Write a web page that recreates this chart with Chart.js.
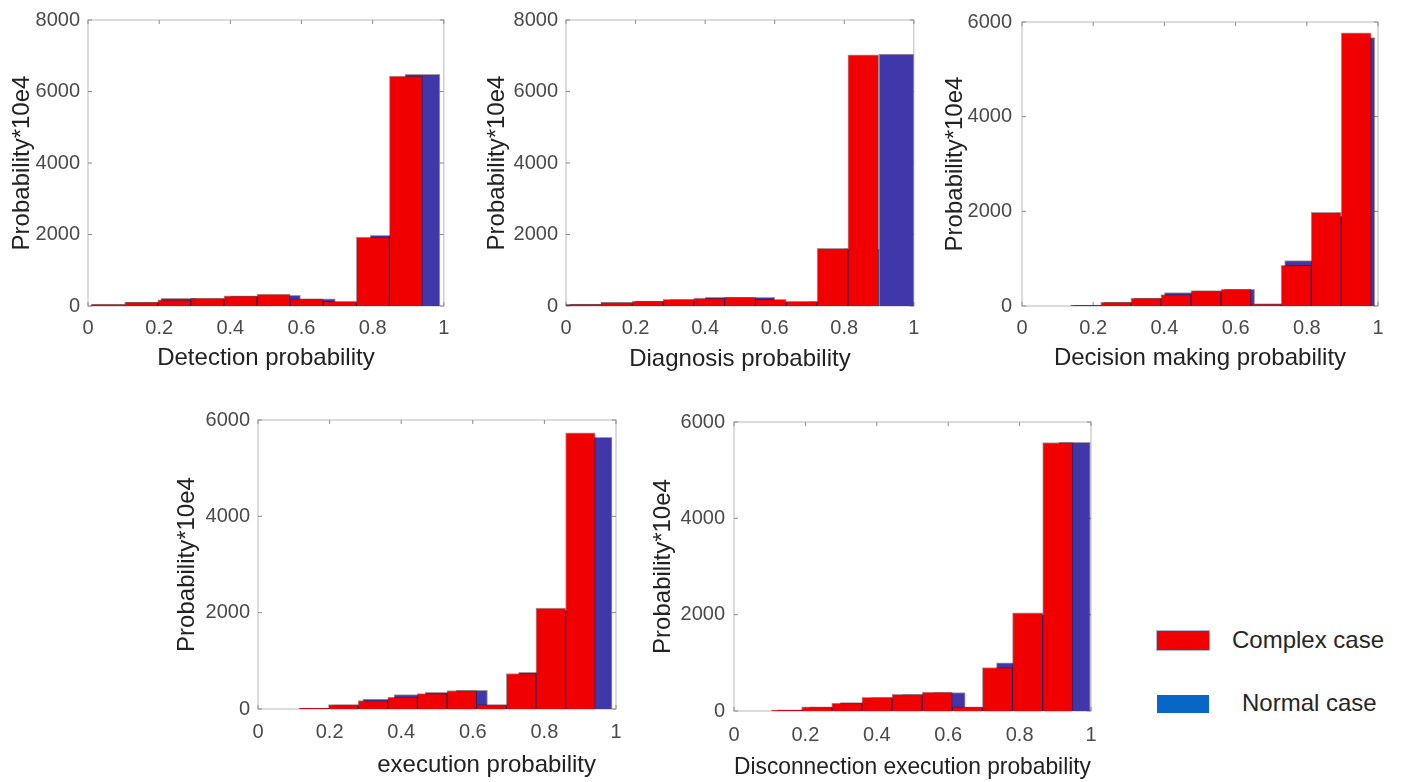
<!DOCTYPE html>
<html lang="en">
<head>
<meta charset="UTF-8">
<title>Probability histograms: complex vs normal case</title>
<script src="https://cdn.jsdelivr.net/npm/chart.js"></script>
<style>
    html, body { margin: 0; padding: 0; background: #fff; }
    body {
        position: relative;
        width: 1402px;
        height: 782px;
        overflow: hidden;
        font-family: 'Liberation Sans', Arial, sans-serif;
    }
    canvas { position: absolute; }
    .swatch { position: absolute; width: 52px; }
    .legend-label {
        position: absolute;
        font-size: 24px;
        line-height: 28px;
        color: #262626;
        white-space: nowrap;
    }
</style>
</head>
<body>
<canvas id="detection" width="460" height="380" style="left:0px;top:0px"></canvas>
<canvas id="diagnosis" width="460" height="380" style="left:470px;top:0px"></canvas>
<canvas id="decision" width="472" height="380" style="left:930px;top:0px"></canvas>
<canvas id="execution" width="480" height="392" style="left:160px;top:390px"></canvas>
<canvas id="disconnection" width="480" height="392" style="left:640px;top:390px"></canvas>

<div class="swatch" style="left:1157px;top:631px;height:19px;background:#f00000;box-shadow:0 0 0 1px #9dbbe3"></div>
<div class="legend-label" style="left:1232px;top:626px">Complex case</div>
<div class="swatch" style="left:1157px;top:695px;height:18px;background:#0766c6"></div>
<div class="legend-label" style="left:1242px;top:689px">Normal case</div>

<script>
    // tick labels
    const xTickLabels = ['0', '0.2', '0.4', '0.6', '0.8', '1'];
    const yTicks8000 = ['0', '2000', '4000', '6000', '8000'];
    const yTicks6000 = ['0', '2000', '4000', '6000'];

    // bin centres and heights (probability * 10e4)
    const detectionComplexX = [0.0565, 0.1495, 0.2425, 0.3355, 0.4285, 0.5215, 0.6145, 0.7075, 0.8005, 0.8935];
    const detectionComplexY = [50, 110, 175, 220, 285, 330, 200, 130, 1930, 6430];
    const detectionNormalX = [0.058, 0.156, 0.254, 0.352, 0.450, 0.548, 0.646, 0.744, 0.842, 0.940];
    const detectionNormalY = [40, 100, 215, 210, 275, 295, 200, 120, 1975, 6480];

    const diagnosisComplexX = [0.0573, 0.1459, 0.2345, 0.3231, 0.4117, 0.5003, 0.5889, 0.6775, 0.7661, 0.8547];
    const diagnosisComplexY = [55, 100, 140, 185, 220, 240, 185, 130, 1610, 7025];
    const diagnosisNormalX = [0.05, 0.15, 0.25, 0.35, 0.45, 0.55, 0.65, 0.75, 0.85, 0.95];
    const diagnosisNormalY = [45, 95, 135, 180, 240, 240, 120, 125, 1600, 7050];

    const decisionComplexX = [0.1792, 0.2636, 0.3480, 0.4324, 0.5168, 0.6012, 0.6856, 0.7700, 0.8544, 0.9388];
    const decisionComplexY = [20, 83, 165, 240, 325, 350, 48, 860, 1980, 5770];
    const decisionNormalX = [0.1892, 0.2736, 0.3580, 0.4424, 0.5268, 0.6112, 0.6956, 0.7800, 0.8644, 0.9488];
    const decisionNormalY = [15, 80, 160, 283, 315, 350, 45, 960, 1900, 5670];

    const executionComplexX = [0.1554, 0.2382, 0.3210, 0.4038, 0.4866, 0.5694, 0.6522, 0.7350, 0.8178, 0.9006];
    const executionComplexY = [20, 90, 175, 250, 320, 385, 90, 735, 2095, 5735];
    const executionNormalX = [0.1625, 0.2495, 0.3365, 0.4235, 0.5105, 0.5975, 0.6845, 0.7715, 0.8585, 0.9455];
    const executionNormalY = [15, 85, 207, 297, 345, 390, 85, 760, 2050, 5640];

    const disconnectComplexX = [0.1472, 0.2316, 0.3160, 0.4004, 0.4848, 0.5692, 0.6536, 0.7380, 0.8224, 0.9068];
    const disconnectComplexY = [20, 85, 165, 285, 345, 395, 85, 900, 2040, 5575];
    const disconnectNormalX = [0.1658, 0.2534, 0.3410, 0.4286, 0.5162, 0.6038, 0.6914, 0.7790, 0.8666, 0.9542];
    const disconnectNormalY = [25, 80, 175, 280, 340, 380, 80, 1000, 2000, 5580];

    const RED = '#f00000';
    const BLUE = '#4038aa';
    const EDGE = 'rgba(40, 0, 0, 0.4)';
    const TICK_COLOR = '#4a4a4a';
    const TITLE_COLOR = '#222222';

    Chart.defaults.font.family = "'Liberation Sans', Arial, sans-serif";

    // plot = chart area inside the canvas, *Pad = title / tick paddings
    const panels = [
        { id: 'detection', xTitle: 'Detection probability', yMax: 8000, yLabels: yTicks8000,
          complexX: detectionComplexX, complexY: detectionComplexY, normalX: detectionNormalX, normalY: detectionNormalY,
          plot: { left: 88, top: 16, right: 446, bottom: 306 }, yTitlePad: 7.6, xTitlePad: 7.6, xTickPad: 10.6, yTickPad: 8, align: 'center' },
        { id: 'diagnosis', xTitle: 'Diagnosis probability', yMax: 8000, yLabels: yTicks8000,
          complexX: diagnosisComplexX, complexY: diagnosisComplexY, normalX: diagnosisNormalX, normalY: diagnosisNormalY,
          plot: { left: 96, top: 16, right: 450, bottom: 306 }, yTitlePad: 12.6, xTitlePad: 6.6, xTickPad: 10.6, yTickPad: 8, align: 'center' },
        { id: 'decision', xTitle: 'Decision making probability', yMax: 6000, yLabels: yTicks6000,
          complexX: decisionComplexX, complexY: decisionComplexY, normalX: decisionNormalX, normalY: decisionNormalY,
          plot: { left: 92, top: 16, right: 448, bottom: 306 }, yTitlePad: 10.6, xTitlePad: 7.6, xTickPad: 10.6, yTickPad: 10, align: 'center' },
        // this one sits off-centre in the original, pushed towards the right
        { id: 'execution', xTitle: 'execution probability   ', yMax: 6000, yLabels: yTicks6000,
          complexX: executionComplexX, complexY: executionComplexY, normalX: executionNormalX, normalY: executionNormalY,
          plot: { left: 98, top: 30, right: 456, bottom: 319 }, yTitlePad: 12.6, xTitlePad: 2.6, xTickPad: 11.7, yTickPad: 8, align: 'end' },
        { id: 'disconnection', xTitle: 'Disconnection execution probability', yMax: 6000, yLabels: yTicks6000,
          complexX: disconnectComplexX, complexY: disconnectComplexY, normalX: disconnectNormalX, normalY: disconnectNormalY,
          plot: { left: 94, top: 32, right: 451, bottom: 321 }, yTitlePad: 8.6, xTitlePad: 0.6, xTickPad: 12.3, yTickPad: 9, align: 'center' }
    ];

    // MATLAB-like axes box with inward ticks on all four sides
    const axesBox = {
        id: 'axesBox',
        beforeDatasetsDraw(chart) {
            const { ctx, chartArea: a, scales } = chart;
            ctx.save();
            ctx.lineWidth = 1;
            ctx.strokeStyle = '#b9b9b9';
            ctx.strokeRect(a.left, a.top, a.right - a.left, a.bottom - a.top);
            ctx.strokeStyle = '#8a8a8a';
            ctx.beginPath();
            scales.x.ticks.forEach(t => {
                const px = scales.x.getPixelForValue(t.value);
                ctx.moveTo(px, a.top); ctx.lineTo(px, a.top + 4);
                ctx.moveTo(px, a.bottom); ctx.lineTo(px, a.bottom - 4);
            });
            scales.y.ticks.forEach(t => {
                const py = scales.y.getPixelForValue(t.value);
                ctx.moveTo(a.left, py); ctx.lineTo(a.left + 4, py);
                ctx.moveTo(a.right, py); ctx.lineTo(a.right - 4, py);
            });
            ctx.stroke();
            ctx.restore();
        }
    };

    function toPoints(xs, ys) {
        return xs.map((x, i) => ({ x: x, y: ys[i] }));
    }

    function barDataset(label, points, axis, color) {
        return {
            label: label,
            data: points,
            xAxisID: axis,
            backgroundColor: color,
            borderColor: EDGE,
            borderWidth: 1,
            barPercentage: 1,
            categoryPercentage: 1,
            grouped: false
        };
    }

    function createHistogram(panel) {
        const canvas = document.getElementById(panel.id);
        const ctx = canvas.getContext('2d');
        const W = canvas.width, H = canvas.height;
        return new Chart(ctx, {
            type: 'bar',
            data: {
                datasets: [
                    // first dataset is painted last, so complex case sits on top
                    barDataset('Complex case', toPoints(panel.complexX, panel.complexY), 'x', RED),
                    barDataset('Normal case', toPoints(panel.normalX, panel.normalY), 'xb', BLUE)
                ]
            },
            options: {
                responsive: false,
                animation: false,
                layout: { padding: { left: 0, top: panel.plot.top, right: W - panel.plot.right, bottom: 0 } },
                plugins: { legend: { display: false }, tooltip: { enabled: false } },
                scales: {
                    x: {
                        type: 'linear', min: 0, max: 1, offset: false,
                        grid: { display: false, drawTicks: false },
                        border: { display: false },
                        ticks: {
                            stepSize: 0.2, autoSkip: false, maxRotation: 0,
                            padding: panel.xTickPad, color: TICK_COLOR, font: { size: 20 },
                            callback: (v, i) => xTickLabels[i]
                        },
                        title: {
                            display: true, text: panel.xTitle, align: panel.align,
                            color: TITLE_COLOR, font: { size: 24 },
                            padding: { top: 0, bottom: panel.xTitlePad }
                        },
                        afterFit: s => { s.height = H - panel.plot.bottom; }
                    },
                    xb: { type: 'linear', min: 0, max: 1, offset: false, display: false },
                    y: {
                        min: 0, max: panel.yMax,
                        grid: { display: false, drawTicks: false },
                        border: { display: false },
                        ticks: {
                            stepSize: 2000, padding: panel.yTickPad, color: TICK_COLOR, font: { size: 20 },
                            callback: (v, i) => panel.yLabels[i]
                        },
                        title: {
                            display: true, text: 'Probability*10e4',
                            color: TITLE_COLOR, font: { size: 24 },
                            padding: { top: panel.yTitlePad, bottom: 0 }
                        },
                        afterFit: s => { s.width = panel.plot.left; }
                    }
                }
            },
            plugins: [axesBox]
        });
    }

    panels.forEach(createHistogram);
</script>
</body>
</html>
